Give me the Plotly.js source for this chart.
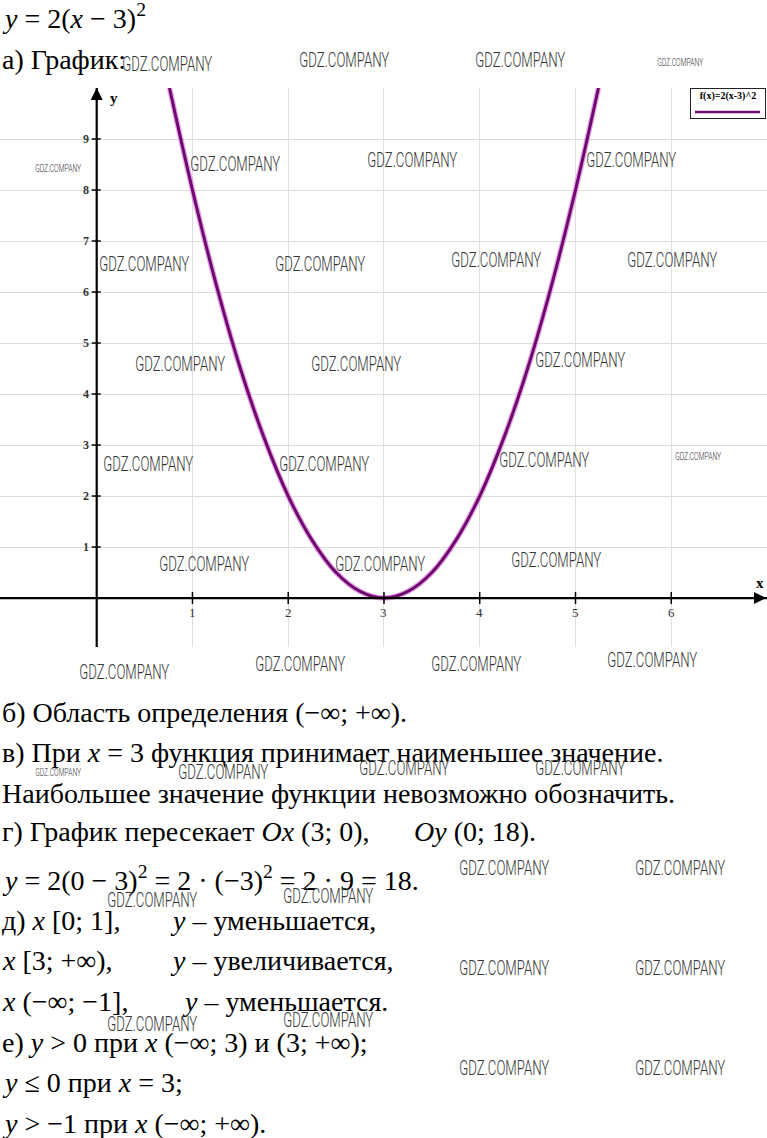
<!DOCTYPE html>
<html>
<head>
<meta charset="utf-8">
<script src="https://cdn.plot.ly/plotly-3.0.1.min.js"></script>
<style>
html,body{margin:0;padding:0;background:#fff;}
#chart{width:767px;height:1138px;}
</style>
</head>
<body>
<div id="chart"></div>
<script>
// ---- data ----
var curveX = [0.76, 1.0, 1.25, 1.5, 1.75, 2.0, 2.25, 2.5, 2.75, 3.0, 3.25, 3.5, 3.75, 4.0, 4.25, 4.5, 4.75, 5.0, 5.24];
var curveY = [10.0, 8.0, 6.13, 4.5, 3.13, 2.0, 1.13, 0.5, 0.13, 0.0, 0.13, 0.5, 1.13, 2.0, 3.13, 4.5, 6.13, 8.0, 10.0];
var xTicks = [1, 2, 3, 4, 5, 6];
var yTicks = [1, 2, 3, 4, 5, 6, 7, 8, 9];
var legendLabel = "f(x)=2(x-3)^2";
var axisNames = ["x", "y"];

var headLines = ["<i>y</i> = 2(<i>x</i> − 3)<sup>2</sup>", "а) График:"];
var bodyLines = [
  ["б) Область определения (−∞; +∞).", ""],
  ["в) При <i>x</i> = 3 функция принимает наименьшее значение.", ""],
  ["Наибольшее значение функции невозможно обозначить.", ""],
  ["г) График пересекает <i>Ox</i> (3; 0),", "<i>Oy</i> (0; 18)."],
  ["<i>y</i> = 2(0 − 3)<sup>2</sup> = 2 · (−3)<sup>2</sup> = 2 · 9 = 18.", ""],
  ["д) <i>x</i> [0; 1],", "<i>y</i> – уменьшается,"],
  ["<i>x</i> [3; +∞),", "<i>y</i> – увеличивается,"],
  ["<i>x</i> (−∞; −1],", "<i>y</i> – уменьшается."],
  ["е) <i>y</i> > 0 при <i>x</i> (−∞; 3) и (3; +∞);", ""],
  ["<i>y</i> ≤ 0 при <i>x</i> = 3;", ""],
  ["<i>y</i> > −1 при <i>x</i> (−∞; +∞).", ""]
];
var watermark = "GDZ.COMPANY";

// ---- layout helpers (pixel positions of page elements) ----
var W = 767, H = 1138;
function px(x){ return x / W; }
function py(y){ return 1 - y / H; }

var headY = [16, 60];
var bodyY = [712, 752, 793, 831, 878, 920, 960, 1001, 1042, 1082, 1123];
var bodyX2 = [0, 0, 0, 412, 0, 168, 168, 180, 0, 0, 0];

var wm = [
  [167,64,1],[344,60,1],[520,60,1],[680,62,0],
  [58,168,0],[235,164,1],[412,160,1],[631,160,1],
  [144,264,1],[320,264,1],[496,260,1],[672,260,1],
  [180,364,1],[356,364,1],[580,360,1],
  [148,464,1],[324,464,1],[544,460,1],[698,456,0],
  [204,564,1],[380,564,1],[556,560,1],
  [124,672,1],[300,664,1],[476,664,1],[652,660,1],
  [58,772,0],[224,772,1],[404,768,1],[580,768,1],
  [504,868,1],[680,868,1],
  [152,900,1],[328,896,1],
  [504,968,1],[680,968,1],
  [152,1024,1],[328,1020,1],
  [504,1068,1],[680,1068,1]
];

var yDom = [1 - 647 / H, 1 - 88 / H];
var serif = "'Liberation Serif', 'Times New Roman', serif";
var narrow = "Roboto, 'DejaVu Sans', sans-serif";

var traces = [
  {x: curveX, y: curveY, mode: "lines", line: {shape: "spline", color: "rgba(214,90,214,0.55)", width: 5.5}, hoverinfo: "skip", showlegend: false},
  {x: curveX, y: curveY, mode: "lines", line: {shape: "spline", color: "#6e0a6e", width: 3}, name: legendLabel, showlegend: false}
];

var shapes = [], ann = [];

// axes
shapes.push({type: "line", xref: "paper", yref: "y", x0: 0, x1: 1, y0: 0, y1: 0, line: {color: "#000", width: 2.2}, layer: "above"});
shapes.push({type: "line", xref: "x", yref: "paper", x0: 0, x1: 0, y0: yDom[0], y1: yDom[1], line: {color: "#000", width: 2.2}, layer: "above"});
ann.push({xref: "paper", yref: "y", x: 1, y: 0, ax: -14, ay: 0, text: "", showarrow: true, arrowhead: 2, arrowsize: 1.2, arrowwidth: 2, arrowcolor: "#000"});
ann.push({xref: "x", yref: "paper", x: 0, y: yDom[1], ax: 0, ay: 14, text: "", showarrow: true, arrowhead: 2, arrowsize: 1.2, arrowwidth: 2, arrowcolor: "#000"});
ann.push({xref: "paper", yref: "y", x: px(760), y: 0, yshift: 15, xanchor: "center", yanchor: "middle", text: "<b>" + axisNames[0] + "</b>", showarrow: false, font: {family: serif, size: 15, color: "#000"}});
ann.push({xref: "x", yref: "paper", x: 0, y: py(98), xshift: 17, xanchor: "center", yanchor: "middle", text: "<b>" + axisNames[1] + "</b>", showarrow: false, font: {family: serif, size: 15, color: "#000"}});

// tick marks + labels
xTicks.forEach(function(t){
  shapes.push({type: "line", xref: "x", yref: "y", x0: t, x1: t, ysizemode: "pixel", yanchor: 0, y0: -6, y1: 6, line: {color: "#000", width: 1.5}, layer: "above"});
  ann.push({xref: "x", yref: "y", x: t, y: 0, yshift: -14, xanchor: "center", yanchor: "middle", text: String(t), showarrow: false, font: {family: serif, size: 13, color: "#333"}});
});
yTicks.forEach(function(t){
  shapes.push({type: "line", xref: "x", yref: "y", y0: t, y1: t, xsizemode: "pixel", xanchor: 0, x0: -5, x1: 4, line: {color: "#000", width: 1.5}, layer: "above"});
  ann.push({xref: "x", yref: "y", x: 0, y: t, xshift: -6, xanchor: "right", yanchor: "middle", text: "<b>" + t + "</b>", showarrow: false, font: {family: serif, size: 12, color: "#333"}});
});

// legend box
ann.push({xref: "paper", yref: "paper", x: px(727.5), y: py(103.5), xanchor: "center", yanchor: "middle", text: "<b>" + legendLabel + "</b><br> ", showarrow: false,
  font: {family: serif, size: 10, color: "#000"}, bordercolor: "#222", borderwidth: 1, borderpad: 1, width: 72, height: 27, valign: "top"});
shapes.push({type: "line", xref: "paper", yref: "paper", x0: px(695), x1: px(760), y0: py(112), y1: py(112), line: {color: "#6e0a6e", width: 2.5}, layer: "above"});

// page text
headLines.forEach(function(t, i){
  ann.push({xref: "paper", yref: "paper", x: 0, y: py(headY[i]), xanchor: "left", yanchor: "middle", text: t, showarrow: false, font: {family: serif, size: 28, color: "#000"}});
});
bodyLines.forEach(function(p, i){
  ann.push({xref: "paper", yref: "paper", x: 0, y: py(bodyY[i]), xanchor: "left", yanchor: "middle", text: p[0], showarrow: false, font: {family: serif, size: 28, color: "#000"}});
  if (p[1]) ann.push({xref: "paper", yref: "paper", x: px(bodyX2[i]), y: py(bodyY[i]), xanchor: "left", yanchor: "middle", text: p[1], showarrow: false, font: {family: serif, size: 28, color: "#000"}});
});

// watermarks
wm.forEach(function(w){
  ann.push({xref: "paper", yref: "paper", x: px(w[0]), y: py(w[1]), xanchor: "center", yanchor: "middle", text: watermark, showarrow: false,
    font: {family: narrow, size: w[2] ? 20 : 10, weight: 300, color: "#333"}});
});

var layout = {
  width: W, height: H,
  margin: {l: 0, r: 0, t: 0, b: 0, pad: 0},
  paper_bgcolor: "#fff", plot_bgcolor: "#fff",
  showlegend: false,
  font: {family: serif},
  xaxis: {domain: [0, 1], range: [-1.01, 7.0], tickvals: xTicks, showticklabels: false, ticks: "", showgrid: true, gridcolor: "#dedede", gridwidth: 1, zeroline: false, showline: false, fixedrange: true},
  yaxis: {domain: yDom, range: [-0.96, 10.0], tickvals: yTicks, showticklabels: false, ticks: "", showgrid: true, gridcolor: "#dedede", gridwidth: 1, zeroline: false, showline: false, fixedrange: true},
  shapes: shapes,
  annotations: ann
};

// condense the watermark lettering horizontally (the original uses a narrow face)
function condense(){
  var nodes = document.querySelectorAll("#chart .annotation-text");
  nodes.forEach(function(t){
    if (t.textContent !== watermark) return;
    var b = t.getBBox();
    if (!b.width) return;
    var target = b.height > 16 ? 90 : 46;
    var s = target / b.width;
    var cx = b.x + b.width / 2;
    t.setAttribute("transform", "translate(" + cx + ",0) scale(" + s + ",1) translate(" + (-cx) + ",0)");
  });
}

Plotly.newPlot("chart", traces, layout, {displayModeBar: false, staticPlot: true}).then(condense);
</script>
</body>
</html>
